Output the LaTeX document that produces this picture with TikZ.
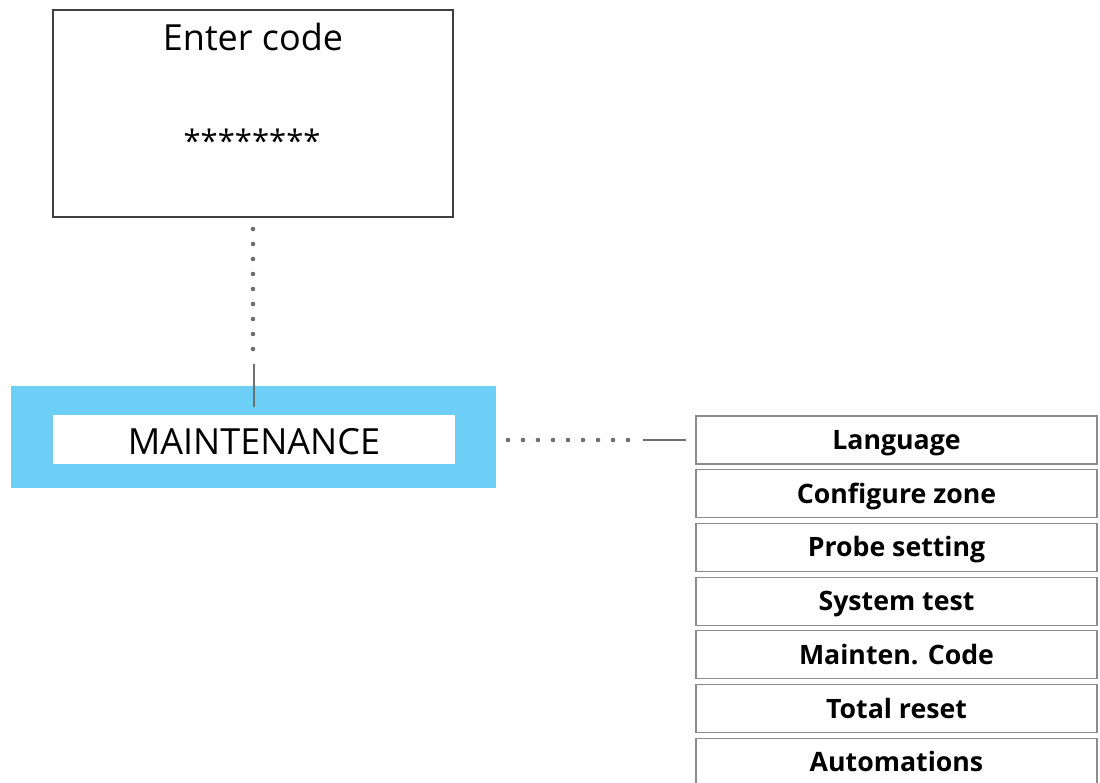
\documentclass[tikz,border=0pt]{standalone}
\usepackage{fontspec}
\setmainfont{Open Sans}
\usetikzlibrary{positioning}
\definecolor{skyblue}{HTML}{6DCFF6}
\definecolor{dotgray}{HTML}{6D6E71}

\begin{document}
\begin{tikzpicture}[
    x=1pt, y=-1pt,
    every node/.style={inner sep=0pt, outer sep=0pt},
    screen/.style={draw=black!75, line width=1.4pt, minimum width=400pt, minimum height=207pt},
    menu/.style={draw=black!45, line width=1.2pt, minimum width=401pt, minimum height=48pt,
        text height=19pt, text depth=0pt, font=\fontsize{26.7}{26.7}\selectfont\bfseries},
    dots/.style={draw=dotgray, line width=4.6pt, line cap=round, dash pattern=on 0pt off 15pt},
    stub/.style={draw=dotgray, line width=2pt}
]
\useasboundingbox (0,0) rectangle (1100,783);
\clip (0,0) rectangle (1100,783);

% code screen
\node[screen] (code) at (253,113.5) {};
\node[font=\fontsize{36}{36}\selectfont, text height=26pt, text depth=0pt] (title) at (253,38) {Enter code};
\node[font=\fontsize{31}{31}\selectfont, text height=22pt, text depth=0pt] (stars) at (252,142) {********};

% maintenance entry
\node[fill=skyblue, minimum width=485pt, minimum height=102pt] (maintback) at (253.5,437) {};
\node[fill=white, minimum width=402pt, minimum height=49pt] (maint) at (254,439.5) {};
\node[font=\fontsize{36}{36}\selectfont, text height=26pt, text depth=0pt] (mainttext) at (254,441) {MAINTENANCE};

% sub menu
\node[menu] (m1) at (896.5,440) {Language};
\node[menu, below=5.7pt of m1] (m2) {Configure zone};
\node[menu, below=5.7pt of m2] (m3) {Probe setting};
\node[menu, below=5.7pt of m3] (m4) {System test};
\node[menu, below=5.7pt of m4] (m5) {Mainten. Code};
\node[menu, below=5.7pt of m5] (m6) {Total reset};
\node[menu, below=5.7pt of m6] (m7) {Automations};

% links
\draw[dots] (code.south) ++(0,12) -- ++(0,120);
\draw[stub] (maint.north) ++(0,-8) -- ++(0,-43);
\draw[dots] (m1.west) ++(-188,0) -- ++(120,0);
\draw[stub] (m1.west) ++(-10,0) -- ++(-43,0);

\end{tikzpicture}
\end{document}
